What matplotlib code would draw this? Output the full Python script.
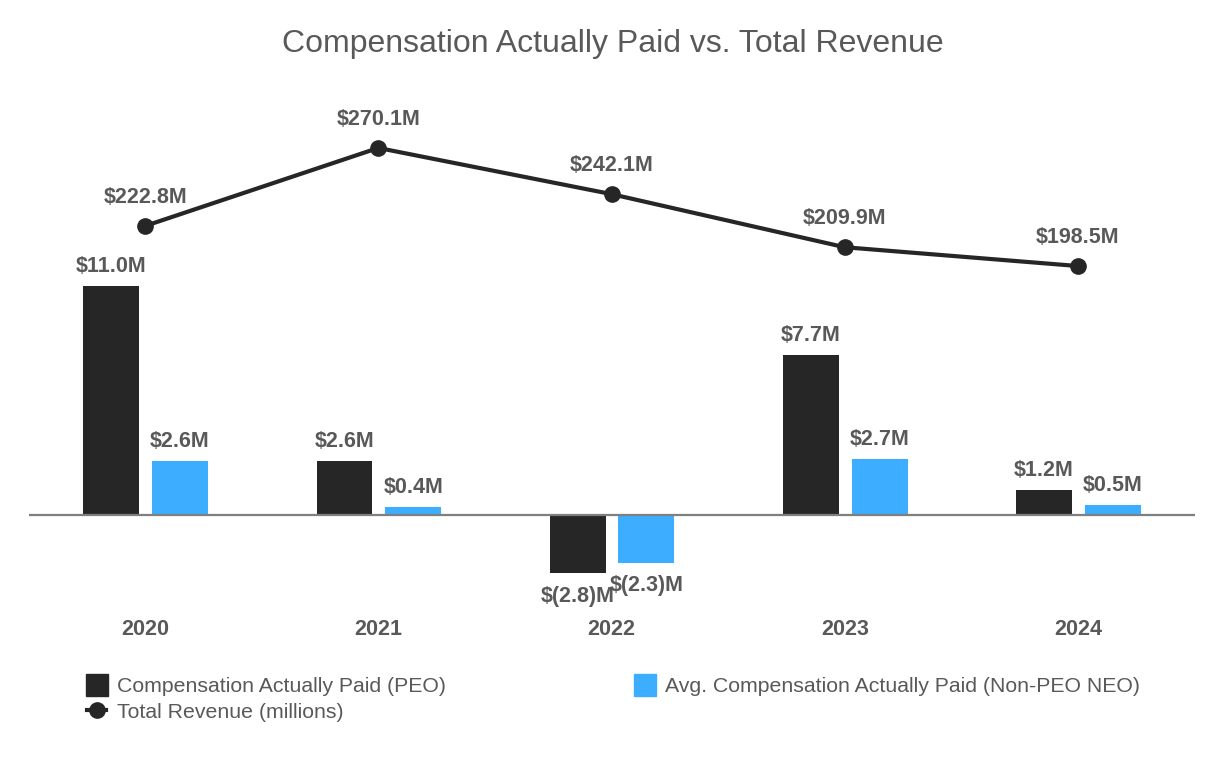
import numpy as np
import matplotlib.pyplot as plt
from matplotlib.lines import Line2D

plt.rcParams['font.family'] = ['Liberation Sans', 'DejaVu Sans']

# chart data
years = ['2020', '2021', '2022', '2023', '2024']
cap_peo = [11.0, 2.6, -2.8, 7.7, 1.2]
cap_neo = [2.6, 0.4, -2.3, 2.7, 0.5]
revenue = [222.8, 270.1, 242.1, 209.9, 198.5]

DARK = '#262626'
BLUE = '#3daeff'
TEXT = '#595959'


def money(v):
    return f"${v:.1f}M" if v >= 0 else f"$({abs(v):.1f})M"


fig = plt.figure(figsize=(12.26, 7.6), dpi=100)
ax = fig.add_axes([28.5 / 1226, 160 / 760, 1166 / 1226, 505 / 760])
ax2 = ax.twinx()

x = np.arange(len(years))
w = 0.24
ax.bar(x - 0.145, cap_peo, w, color=DARK)
ax.bar(x + 0.15, cap_neo, w, color=BLUE)
ax.axhline(0, color='#7f7f7f', lw=1.6)

for xi, a, b in zip(x, cap_peo, cap_neo):
    for xx, v in ((xi - 0.145, a), (xi + 0.15, b)):
        if v >= 0:
            ax.annotate(money(v), (xx, v), xytext=(0, 6.5), textcoords='offset points',
                        ha='center', va='bottom', fontsize=15.5, fontweight='bold', color=TEXT)
        else:
            ax.annotate(money(v), (xx, v), xytext=(0, -9), textcoords='offset points',
                        ha='center', va='top', fontsize=15.5, fontweight='bold', color=TEXT)

ax2.plot(x, revenue, color=DARK, lw=3, marker='o', markersize=11, zorder=5)
for xi, r in zip(x, revenue):
    ax2.annotate(money(r), (xi, r), xytext=(0, 13), textcoords='offset points',
                 ha='center', va='bottom', fontsize=15.5, fontweight='bold', color=TEXT)

ax.set_xlim(-0.5, len(years) - 0.5)
ax.set_ylim(-4.08, 20.17)
ax2.set_ylim(-3.99, 302.2)

ax.set_xticks(x)
ax.set_xticklabels(years, fontsize=15.5, fontweight='bold', color=TEXT)
ax.tick_params(axis='x', length=0, pad=14)
ax.set_yticks([])
ax2.set_yticks([])
for a in (ax, ax2):
    for s in a.spines.values():
        s.set_visible(False)

fig.suptitle('Compensation Actually Paid vs. Total Revenue', fontsize=23,
             color=TEXT, y=0.962)

handles = [
    Line2D([], [], ls='none', marker='s', markersize=16, color=DARK),
    Line2D([], [], color=DARK, lw=3, marker='o', markersize=11),
    Line2D([], [], ls='none', marker='s', markersize=16, color=BLUE),
]
labels = ['Compensation Actually Paid (PEO)', 'Total Revenue (millions)',
          'Avg. Compensation Actually Paid (Non-PEO NEO)']
fig.legend(handles, labels, ncol=2, loc='upper left', bbox_to_anchor=(68 / 1226, 1 - 658 / 760),
           frameon=False, fontsize=15.3, labelcolor=TEXT, handlelength=0.9,
           handletextpad=0.5, columnspacing=8.9, labelspacing=0.3)

fig.savefig('out.png', dpi=100)
